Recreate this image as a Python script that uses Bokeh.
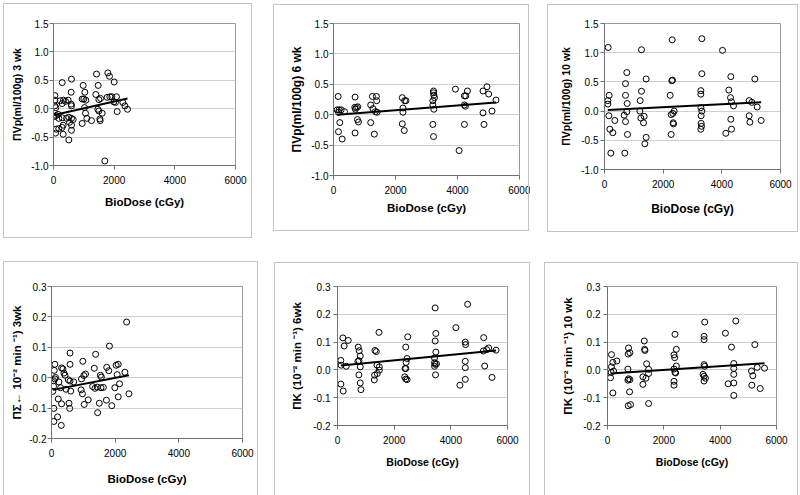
from bokeh.plotting import figure
from bokeh.layouts import column, row
from bokeh.models import Range1d, FixedTicker, PrintfTickFormatter, InlineStyleSheet
from bokeh.embed import file_html
from bokeh.resources import INLINE

# ---------------- data ----------------
x_ticks = [0, 2000, 4000, 6000]
vp_ticks = [-1.0, -0.5, 0.0, 0.5, 1.0, 1.5]
k_ticks = [-0.2, -0.1, 0.0, 0.1, 0.2, 0.3]

labels = ["ΠVp(ml/100g) 3 wk", "ΠVp(ml/100g) 6 wk", "ΠVp(ml/100g) 10 wk",
          "ΠΣ← 10⁻² min ⁻¹) 3wk", "ΠK (10⁻² min ⁻¹) 6wk", "ΠK (10⁻² min ⁻¹) 10 wk"]
x_label = "BioDose (cGy)"

x1 = [286, 593, 1418, 1791, 1846, 2000, 978, 1473, 582, 1033, 44, 44, 220, 330, 396, 484, 582, 593, 286, 945,
      1000, 1066, 1396, 1495, 1550, 1769, 1857, 1923, 2077, 1989, 2044, 2286, 2352, 2440, 2099, 44, 77, 22, 88, 154,
      176, 286, 429, 505, 593, 648, 527, 593, 319, 286, 176, 88, 66, 319, 593, 505, 945, 1022, 1055, 1099,
      1253, 1462, 1495, 1528, 1605, 1539, 1692]
y1 = [0.46, 0.52, 0.61, 0.63, 0.57, 0.47, 0.41, 0.41, 0.29, 0.29, 0.23, 0.15, 0.14, 0.15, 0.13, 0.15, 0.08, 0.05, 0.09, 0.17,
      0.17, 0.15, 0.25, 0.16, 0.18, 0.20, 0.21, 0.21, 0.21, 0.12, 0.11, 0.11, 0.05, -0.01, -0.05, 0.05, 0.02, -0.14, -0.12, -0.10,
      -0.17, -0.16, -0.17, -0.15, -0.17, -0.19, -0.24, -0.29, -0.29, -0.33, -0.35, -0.36, -0.43, -0.45, -0.38, -0.55, -0.26, 0.02, -0.08, -0.17,
      -0.21, -0.01, -0.04, -0.18, -0.08, -0.21, -0.92]
trend1_x = [22, 2440]
trend1_y = [-0.11, 0.18]

x2 = [150, 118, 182, 247, 161, 354, 204, 161, 279,
      697, 686, 740, 782, 707, 772, 804, 697,
      1254, 1200, 1275, 1350, 1383, 1393, 1404, 1200, 1318,
      2219, 2294, 2337, 2240, 2240, 2219, 2283,
      3226, 3226, 3237, 3258, 3205, 3205, 3237, 3205, 3226,
      3933, 4223, 4266, 4319, 4223, 4255, 4223, 4051,
      4823, 4952, 5005, 4823, 5113, 4855, 5241]
y2 = [0.30, 0.08, 0.08, 0.08, 0.04, 0.05, -0.13, -0.28, -0.40,
      0.29, 0.12, 0.12, 0.13, 0.09, -0.08, -0.12, -0.30,
      0.30, 0.16, 0.10, 0.05, 0.30, 0.23, 0.04, -0.13, -0.32,
      0.28, 0.23, 0.23, 0.11, 0.04, -0.15, -0.26,
      0.39, 0.36, 0.32, 0.28, 0.23, 0.16, 0.09, -0.16, -0.36,
      0.42, 0.31, 0.31, 0.39, 0.16, 0.14, -0.16, -0.59,
      0.39, 0.46, 0.34, 0.03, 0.06, -0.16, 0.24]
trend2_x = [118, 5241]
trend2_y = [0.0, 0.20]

x3 = [125, 159, 114, 114, 148, 352, 182, 284, 216,
      761, 716, 716, 773, 761, 670, 716, 784, 693,
      1261, 1261, 1216, 1205, 1239, 1352, 1330, 1420, 1420, 1375,
      2307, 2295, 2318, 2239, 2273, 2330, 2375, 2341, 2352, 2273,
      3318, 3318, 3284, 3284, 3284, 3318, 3295, 3295, 3307, 3284,
      4023, 4307, 4239, 4295, 4330, 4398, 4307, 4330, 4136,
      4932, 5023, 5125, 5205, 4932, 4955, 5341]
y3 = [1.09, 0.27, 0.18, 0.12, -0.08, -0.16, -0.31, -0.37, -0.72,
      0.66, 0.47, 0.27, 0.13, -0.01, -0.07, -0.18, -0.40, -0.72,
      1.05, 0.34, 0.18, 0.00, -0.12, -0.09, -0.20, 0.55, -0.45, -0.56,
      1.22, 0.52, 0.53, 0.27, -0.06, -0.04, 0.00, -0.20, -0.22, -0.40,
      1.24, 0.64, 0.35, 0.29, 0.06, 0.00, -0.08, -0.21, -0.26, -0.31,
      1.04, 0.59, 0.36, 0.23, 0.16, 0.09, -0.14, -0.31, -0.38,
      0.18, 0.15, 0.55, 0.07, -0.08, -0.19, -0.16]
trend3_x = [114, 5341]
trend3_y = [0.02, 0.15]

x4 = [2360, 1820, 582, 1386, 984, 106, 582, 2031, 2095, 1735, 1344, 317, 360, 85, 1799, 2306, 2063, 1069, 1016, 1534,
      1566, 127, 391, 423, 529, 64, 106, 233, 582, 698, 942, 2137, 64, 286, 455, 603, 42, 931, 973, 1291,
      1365, 1439, 1555, 1629, 1989, 2433, 212, 1153, 1725, 317, 550, 1026, 1502, 1894, 2095, 571, 74, 1449, 191, 74,
      307]
y4 = [0.183, 0.104, 0.081, 0.077, 0.054, 0.044, 0.044, 0.041, 0.044, 0.034, 0.031, 0.032, 0.029, 0.024, 0.023, 0.018,
      0.010, 0.012, 0.007, 0.008, 0.002, 0.001, 0.015, 0.008, -0.007, -0.010, -0.004, -0.014, -0.011, -0.014, -0.004,
      -0.020, -0.028, -0.033, -0.038, -0.044, -0.045, -0.040, -0.053, -0.029, -0.035, -0.031, -0.033, -0.032, -0.033,
      -0.053, -0.070, -0.073, -0.074, -0.086, -0.084, -0.088, -0.084, -0.092, -0.063, -0.101, -0.101, -0.115, -0.129,
      -0.144, -0.157]
trend4_x = [42, 2433]
trend4_y = [-0.040, 0.008]

x5 = [118, 130, 189, 236, 378, 307, 118, 201,
      732, 767, 803, 756, 720, 803, 756, 803, 827,
      1322, 1370, 1464, 1393, 1476, 1476, 1405, 1310, 1299,
      2409, 2479, 2456, 2420, 2385, 2410, 2373, 2409, 2456,
      3447, 3471, 3447, 3471, 3424, 3424, 3447, 3495, 3424, 3459,
      4179, 4593, 4510, 4522, 4510, 4510, 4510, 4321,
      5159, 5148, 5195, 5265, 5336, 5454, 5596]
y5 = [0.034, 0.017, 0.115, 0.086, 0.106, 0.013, -0.051, -0.076,
      0.082, 0.069, 0.050, 0.033, 0.030, 0.011, -0.018, -0.047, -0.071,
      0.070, 0.066, 0.135, 0.017, 0.011, -0.001, -0.013, -0.019, -0.036,
      0.082, 0.119, 0.041, 0.027, 0.005, 0.005, -0.025, -0.033, -0.035,
      0.223, 0.131, 0.104, 0.064, 0.043, 0.026, 0.020, 0.022, 0.013, -0.018,
      0.152, 0.236, 0.100, 0.091, 0.031, 0.008, -0.034, -0.055,
      0.116, 0.068, 0.014, 0.073, 0.079, -0.027, 0.071]
trend5_x = [118, 5596]
trend5_y = [0.016, 0.070]

x6 = [142, 190, 332, 142, 214, 107, 130, 190,
      747, 795, 735, 724, 747, 795, 724, 783, 735, 819,
      1305, 1317, 1330, 1388, 1459, 1459, 1257, 1364, 1257, 1459,
      2396, 2444, 2361, 2384, 2444, 2361, 2396, 2420, 2361, 2361,
      3452, 3428, 3428, 3428, 3452, 3393, 3428, 3476, 3428,
      4187, 4401, 4555, 4484, 4484, 4484, 4484, 4282, 4484,
      5113, 5160, 5231, 5314, 5125, 5421, 5575]
y6 = [0.055, 0.027, 0.032, 0.011, -0.004, -0.028, -0.009, -0.083,
      0.079, 0.062, 0.057, 0.003, -0.032, -0.035, -0.037, -0.079, -0.129, -0.125,
      0.104, 0.074, 0.070, 0.022, 0.002, -0.013, -0.025, -0.030, -0.052, -0.121,
      0.128, 0.074, 0.054, 0.044, 0.014, 0.003, -0.009, -0.011, -0.041, -0.055,
      0.172, 0.121, 0.109, 0.019, 0.013, -0.016, -0.023, -0.030, -0.040,
      0.132, 0.082, 0.176, 0.023, 0.005, -0.016, -0.047, -0.050, -0.092,
      -0.004, -0.021, 0.091, 0.009, -0.055, -0.067, 0.006]
trend6_x = [107, 5575]
trend6_y = [-0.013, 0.024]

FONT = "Liberation Sans"


def box_css(left, top, w, h, bottom_edge=True):
    bb = "" if bottom_edge else "border-bottom:none;"
    return (":host{position:relative;} :host::after{content:'';position:absolute;"
            f"left:{left}px;top:{top}px;width:{w}px;height:{h}px;box-sizing:border-box;"
            f"border:1px solid #c4c4c4;{bb}pointer-events:none;}}")


def make_panel(xs, ys, tx, ty, yticks, ylabel, geom):
    (bl, fw, br, bt, fh, bb, ylab_size, xlab_size, y_std, y_als, x_als, box) = geom
    p = figure(frame_width=fw, frame_height=fh,
               min_border_left=bl, min_border_right=br, min_border_top=bt, min_border_bottom=bb,
               x_range=Range1d(0, 6000), y_range=Range1d(yticks[0], yticks[-1]),
               toolbar_location=None, output_backend="svg",
               stylesheets=[InlineStyleSheet(css=box_css(*box))])
    p.background_fill_color = "white"
    p.border_fill_color = "white"
    p.outline_line_color = "#9a9a9a"
    p.outline_line_width = 1

    p.xaxis.ticker = FixedTicker(ticks=x_ticks)
    p.yaxis.ticker = FixedTicker(ticks=yticks)
    p.yaxis.formatter = PrintfTickFormatter(format="%.1f")
    for ax in (p.xaxis[0], p.yaxis[0]):
        ax.axis_line_color = "#707070"
        ax.major_tick_line_color = "#707070"
        ax.major_tick_out = 4
        ax.major_tick_in = 0
        ax.minor_tick_line_color = None
        ax.major_label_text_font = FONT
        ax.major_label_text_font_size = "10px"
        ax.major_label_text_color = "black"
        ax.axis_label_text_font = FONT
        ax.axis_label_text_font_style = "bold"
        ax.axis_label_text_color = "black"
    p.xaxis.major_label_standoff = 6
    p.yaxis.major_label_standoff = y_std
    p.xaxis.axis_label = x_label
    p.yaxis.axis_label = ylabel
    p.xaxis.axis_label_text_font_size = xlab_size
    p.yaxis.axis_label_text_font_size = ylab_size
    p.xaxis.axis_label_standoff = x_als
    p.yaxis.axis_label_standoff = y_als

    p.xgrid.grid_line_color = None
    p.ygrid.grid_line_color = "#cfcfcf"

    p.scatter(xs, ys, marker="circle", size=6, fill_color=None, line_color="black", line_width=1)
    p.line(tx, ty, line_color="black", line_width=2)
    return p


# geometry: border_left, frame_w, border_right, border_top, frame_h, border_bottom,
# ylabel size, xlabel size, ytick standoff, ylabel standoff, xlabel standoff,
# chart-area box (left, top, width, height[, bottom edge]) relative to the figure
g1 = (53, 182, 25, 23, 142, 85, "10.5px", "11.5px", 1, 5, 9, (3, 3, 249, 235))
g2 = (73, 186, 11, 23, 152, 75, "12px", "11.5px", 1, 4, 5, (13, 4, 256, 227))
g3 = (74, 176, 20, 22, 146, 82, "10.5px", "12px", 2, 6, 11, (17, 4, 251, 228))
g4 = (51, 191, 18, 33, 152, 60, "11.5px", "11.5px", 1, 3, 13, (3, 11, 255, 234, False))
g5 = (77, 170, 23, 36, 139, 70, "11.5px", "10.5px", 3, 7, 9, (14, 12, 256, 233, False))
g6 = (77, 169, 24, 36, 139, 70, "11.5px", "10.5px", 3, 6, 9, (14, 12, 254, 233, False))

p1 = make_panel(x1, y1, trend1_x, trend1_y, vp_ticks, labels[0], g1)
p2 = make_panel(x2, y2, trend2_x, trend2_y, vp_ticks, labels[1], g2)
p3 = make_panel(x3, y3, trend3_x, trend3_y, vp_ticks, labels[2], g3)
p4 = make_panel(x4, y4, trend4_x, trend4_y, k_ticks, labels[3], g4)
p5 = make_panel(x5, y5, trend5_x, trend5_y, k_ticks, labels[4], g5)
p6 = make_panel(x6, y6, trend6_x, trend6_y, k_ticks, labels[5], g6)

layout = column(row(p1, p2, p3, spacing=0), row(p4, p5, p6, spacing=0), spacing=0)

open("out.html", "w").write(file_html(layout, INLINE))
